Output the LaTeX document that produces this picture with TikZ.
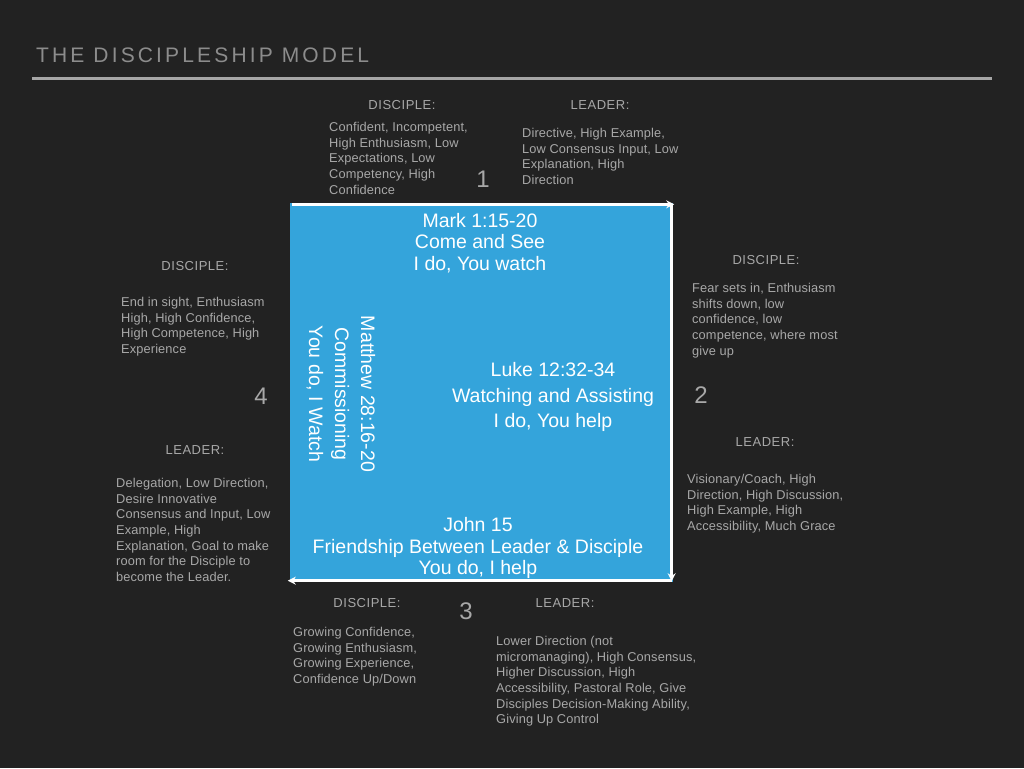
\documentclass[tikz,border=0pt]{standalone}
\usepackage{fontspec}
\setmainfont{Liberation Sans}
\newfontfamily\titlefont[LetterSpace=15]{Liberation Sans}
\newfontfamily\labelfont[LetterSpace=4]{Liberation Sans}
\newfontfamily\bodyfont[LetterSpace=1]{Liberation Sans}
\usetikzlibrary{arrows.meta}
\definecolor{slidebg}{HTML}{222222}
\definecolor{titlegray}{HTML}{8C8C8C}
\definecolor{rulegray}{HTML}{A6A6A6}
\definecolor{bodygray}{HTML}{A8A8A8}
\definecolor{modelblue}{HTML}{34A4DB}

\tikzset{
  desc/.style={font=\bodyfont\fontsize{12.8}{15.7}\selectfont, text=bodygray, align=left, inner sep=0pt, anchor=north west},
  rolelabel/.style={font=\labelfont\fontsize{13}{15}\selectfont, text=bodygray, inner sep=0pt},
  stagenum/.style={font=\fontsize{24}{28}\selectfont, text=bodygray, inner sep=0pt},
  boxtext/.style={font=\fontsize{19.5}{21.5}\selectfont, text=white, align=center, inner sep=0pt},
  cyclearrow/.style={-{Stealth[length=8pt, width=8pt]}, white, line width=3pt}
}

\begin{document}
\begin{tikzpicture}[x=1pt, y=-1pt]
  \fill[slidebg] (0,0) rectangle (1024,768);
  \useasboundingbox (0,0) rectangle (1024,768);

  % title and rule
  \node[font=\titlefont\fontsize{21}{24}\selectfont, text=titlegray, inner sep=0pt, anchor=west] (title) at (36,55) {THE DISCIPLESHIP MODEL};
  \draw[rulegray, line width=3pt] (32,78) -- (992,78);

  % the model square
  \node[fill=modelblue, minimum width=383pt, minimum height=379pt, inner sep=0pt] (box) at (481.5,392.5) {};
  \draw[cyclearrow] ([xshift=2pt, yshift=-1.5pt]box.north west) -- ([xshift=1pt, yshift=-1.5pt]box.north east);
  \draw[cyclearrow] ([xshift=-1.5pt, yshift=-1.5pt]box.north east) -- ([xshift=-1.5pt, yshift=1pt]box.south east);
  \draw[cyclearrow] ([xshift=-1.5pt, yshift=1.5pt]box.south east) -- ([xshift=-2pt, yshift=1.5pt]box.south west);

  \node[boxtext] (mark) at (480,243) {Mark 1:15-20\\ Come and See\\ I do, You watch};
  \node[boxtext, font=\fontsize{19.5}{25.5}\selectfont] (luke) at (553,397) {Luke 12:32-34\\ Watching and Assisting\\ I do, You help};
  \node[boxtext] (john) at (478,548) {John 15\\ Friendship Between Leader \& Disciple\\ You do, I help};
  \node[boxtext, font=\fontsize{19.5}{26}\selectfont, rotate=-90] (matt) at (341,394) {Matthew 28:16-20\\ Commissioning\\ You do, I Watch};

  % stage 1 (top)
  \node[rolelabel] (dlab1) at (402,105) {DISCIPLE:};
  \node[rolelabel] (llab1) at (600,105) {LEADER:};
  \node[desc] (ddesc1) at (329,122) {Confident, Incompetent,\\ High Enthusiasm, Low\\ Expectations, Low\\ Competency, High\\ Confidence};
  \node[desc] (ldesc1) at (522,128) {Directive, High Example,\\ Low Consensus Input, Low\\ Explanation, High\\ Direction};
  \node[stagenum] (num1) at (483,179) {1};

  % stage 2 (right)
  \node[rolelabel] (dlab2) at (766,260) {DISCIPLE:};
  \node[desc] (ddesc2) at (692,283) {Fear sets in, Enthusiasm\\ shifts down, low\\ confidence, low\\ competence, where most\\ give up};
  \node[stagenum] (num2) at (701,395) {2};
  \node[rolelabel] (llab2) at (765,442) {LEADER:};
  \node[desc] (ldesc2) at (687,474) {Visionary/Coach, High\\ Direction, High Discussion,\\ High Example, High\\ Accessibility, Much Grace};

  % stage 3 (bottom)
  \node[rolelabel] (dlab3) at (367,603) {DISCIPLE:};
  \node[rolelabel] (llab3) at (565,603) {LEADER:};
  \node[stagenum] (num3) at (466,611) {3};
  \node[desc] (ddesc3) at (293,627) {Growing Confidence,\\ Growing Enthusiasm,\\ Growing Experience,\\ Confidence Up/Down};
  \node[desc] (ldesc3) at (496,636) {Lower Direction (not\\ micromanaging), High Consensus,\\ Higher Discussion, High\\ Accessibility, Pastoral Role, Give\\ Disciples Decision-Making Ability,\\ Giving Up Control};

  % stage 4 (left)
  \node[rolelabel] (dlab4) at (195,266) {DISCIPLE:};
  \node[desc] (ddesc4) at (121,297) {End in sight, Enthusiasm\\ High, High Confidence,\\ High Competence, High\\ Experience};
  \node[stagenum] (num4) at (261,396) {4};
  \node[rolelabel] (llab4) at (195,450) {LEADER:};
  \node[desc] (ldesc4) at (116,478) {Delegation, Low Direction,\\ Desire Innovative\\ Consensus and Input, Low\\ Example, High\\ Explanation, Goal to make\\ room for the Disciple to\\ become the Leader.};
\end{tikzpicture}
\end{document}
